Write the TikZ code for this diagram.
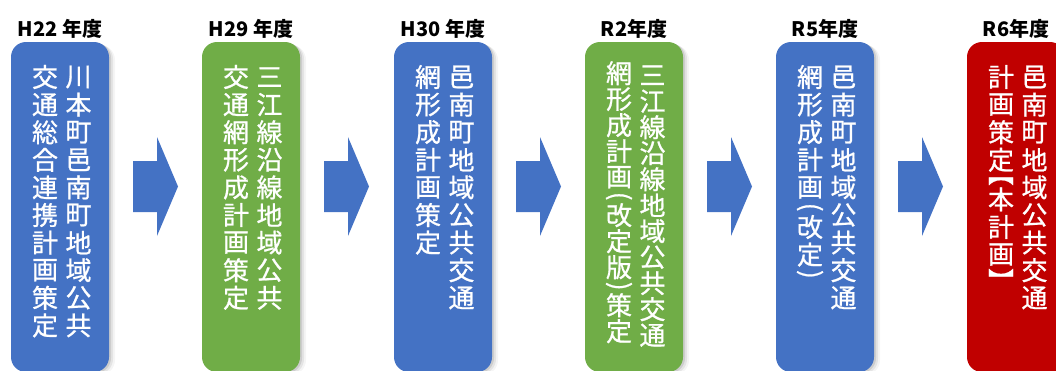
\documentclass[tikz,border=0pt]{standalone}
\usepackage{fontspec}
\usetikzlibrary{shadows}
\newfontfamily\jp{Noto Sans CJK JP}
\newfontfamily\jpcol{Noto Sans CJK JP}[FakeBold=0.8]
\definecolor{pblue}{HTML}{4472C4}
\definecolor{pgreen}{HTML}{70AD47}
\definecolor{pred}{HTML}{C00000}
\ExplSyntaxOn
\dim_new:N \l_vc_pitch_dim
\cs_new_protected:Npn \vc_char:n #1
  { \vbox to \l_vc_pitch_dim { \vss \hbox to 1.05em { \hss #1 \hss } \vss } }
\cs_new_protected:Npn \vc_item:n #1
  {
    \tl_if_single_token:nTF {#1}
      { \token_if_cs:NTF #1 {#1} { \vc_char:n {#1} } }
      { \vc_char:n {#1} }
  }
\NewDocumentCommand \vcol { O{27.6pt} m }
  {
    \dim_set:Nn \l_vc_pitch_dim {#1}
    \vbox { \offinterlineskip \tl_map_inline:nn {#2} { \vc_item:n {##1} } }
  }
\NewDocumentCommand \vshort { m }
  { \vbox to 12pt { \vss \hbox to 1.05em { \hss #1 \hss } \vss } }
\ExplSyntaxOff
\newcommand\lpar{\vshort{\rotatebox{-90}{(}}}
\newcommand\rpar{\vshort{\rotatebox{-90}{)}}}
\newcommand\lbrk{\vshort{\rotatebox{-90}{\hbox to .5em{\kern-.5em 【\hss}}}}
\newcommand\rbrk{\vshort{\rotatebox{-90}{\hbox to .5em{】\hss}}}}
\tikzset{
  box/.style={rectangle, rounded corners=15pt, minimum width=98pt, minimum height=330pt,
    inner sep=0pt, draw=none,
    general shadow={shadow xshift=2pt, shadow yshift=-1pt, fill=black, opacity=.10},
    general shadow={shadow xshift=4pt, shadow yshift=-2pt, fill=black, opacity=.07},
    general shadow={shadow xshift=6pt, shadow yshift=-3pt, fill=black, opacity=.04}},
  coltext/.style={anchor=north, inner sep=0pt, text=white, font=\jpcol\fontsize{26}{26}\selectfont},
  year/.style={font=\jp\bfseries\fontsize{20}{20}\selectfont, inner sep=0pt, text=black},
  blockarrow/.style={fill=pblue, draw=none}
}
\begin{document}
\begin{tikzpicture}[x=1pt,y=-1pt]
\useasboundingbox (0,0) rectangle (1056,370);
\clip (0,0) rectangle (1056,370);
% boxes
\node[box, fill=pblue]  (b1) at (60,207)   {};
\node[box, fill=pgreen] (b2) at (251,207)  {};
\node[box, fill=pblue]  (b3) at (443,207)  {};
\node[box, fill=pgreen] (b4) at (634,207)  {};
\node[box, fill=pblue]  (b5) at (825,207)  {};
\node[box, fill=pred]   (b6) at (1016,207) {};
% year labels
\node[year] (y1) at (60,29)   {H22 年度};
\node[year] (y2) at (251,29)  {H29 年度};
\node[year] (y3) at (443,29)  {H30 年度};
\node[year] (y4) at (634,29)  {R2年度};
\node[year] (y5) at (825,29)  {R5年度};
\node[year] (y6) at (1016,29) {R6年度};
% texts
\node[coltext] (t1r) at (78.5,63) {\vcol{川本町邑南町地域公共}};
\node[coltext] (t1l) at (45,63)   {\vcol{交通総合連携計画策定}};
\node[coltext] (t2r) at (269.5,63) {\vcol{三江線沿線地域公共}};
\node[coltext] (t2l) at (236,63)   {\vcol{交通網形成計画策定}};
\node[coltext] (t3r) at (461.5,63) {\vcol{邑南町地域公共交通}};
\node[coltext] (t3l) at (428,63)   {\vcol{網形成計画策定}};
\node[coltext] (t4r) at (652.5,62) {\vcol[26pt]{三江線沿線地域公共交通}};
\node[coltext] (t4l) at (619,60)   {\vcol[26pt]{網形成計画\lpar 改定版\rpar 策定}};
\node[coltext] (t5r) at (843.5,63) {\vcol{邑南町地域公共交通}};
\node[coltext] (t5l) at (810,63)   {\vcol{網形成計画\lpar 改定\rpar}};
\node[coltext] (t6r) at (1034.5,63) {\vcol{邑南町地域公共交通}};
\node[coltext] (t6l) at (1001,63)   {\vcol{計画策定\lbrk 本計画\rbrk}};
% block arrows
\foreach \L in {11,202,394,585,776} {
  \fill[blockarrow] ({\L+122},161) -- ({\L+146},161) -- ({\L+146},137)
    -- ({\L+167},186.5) -- ({\L+146},236) -- ({\L+146},212) -- ({\L+122},212) -- cycle;
}
\end{tikzpicture}
\end{document}
